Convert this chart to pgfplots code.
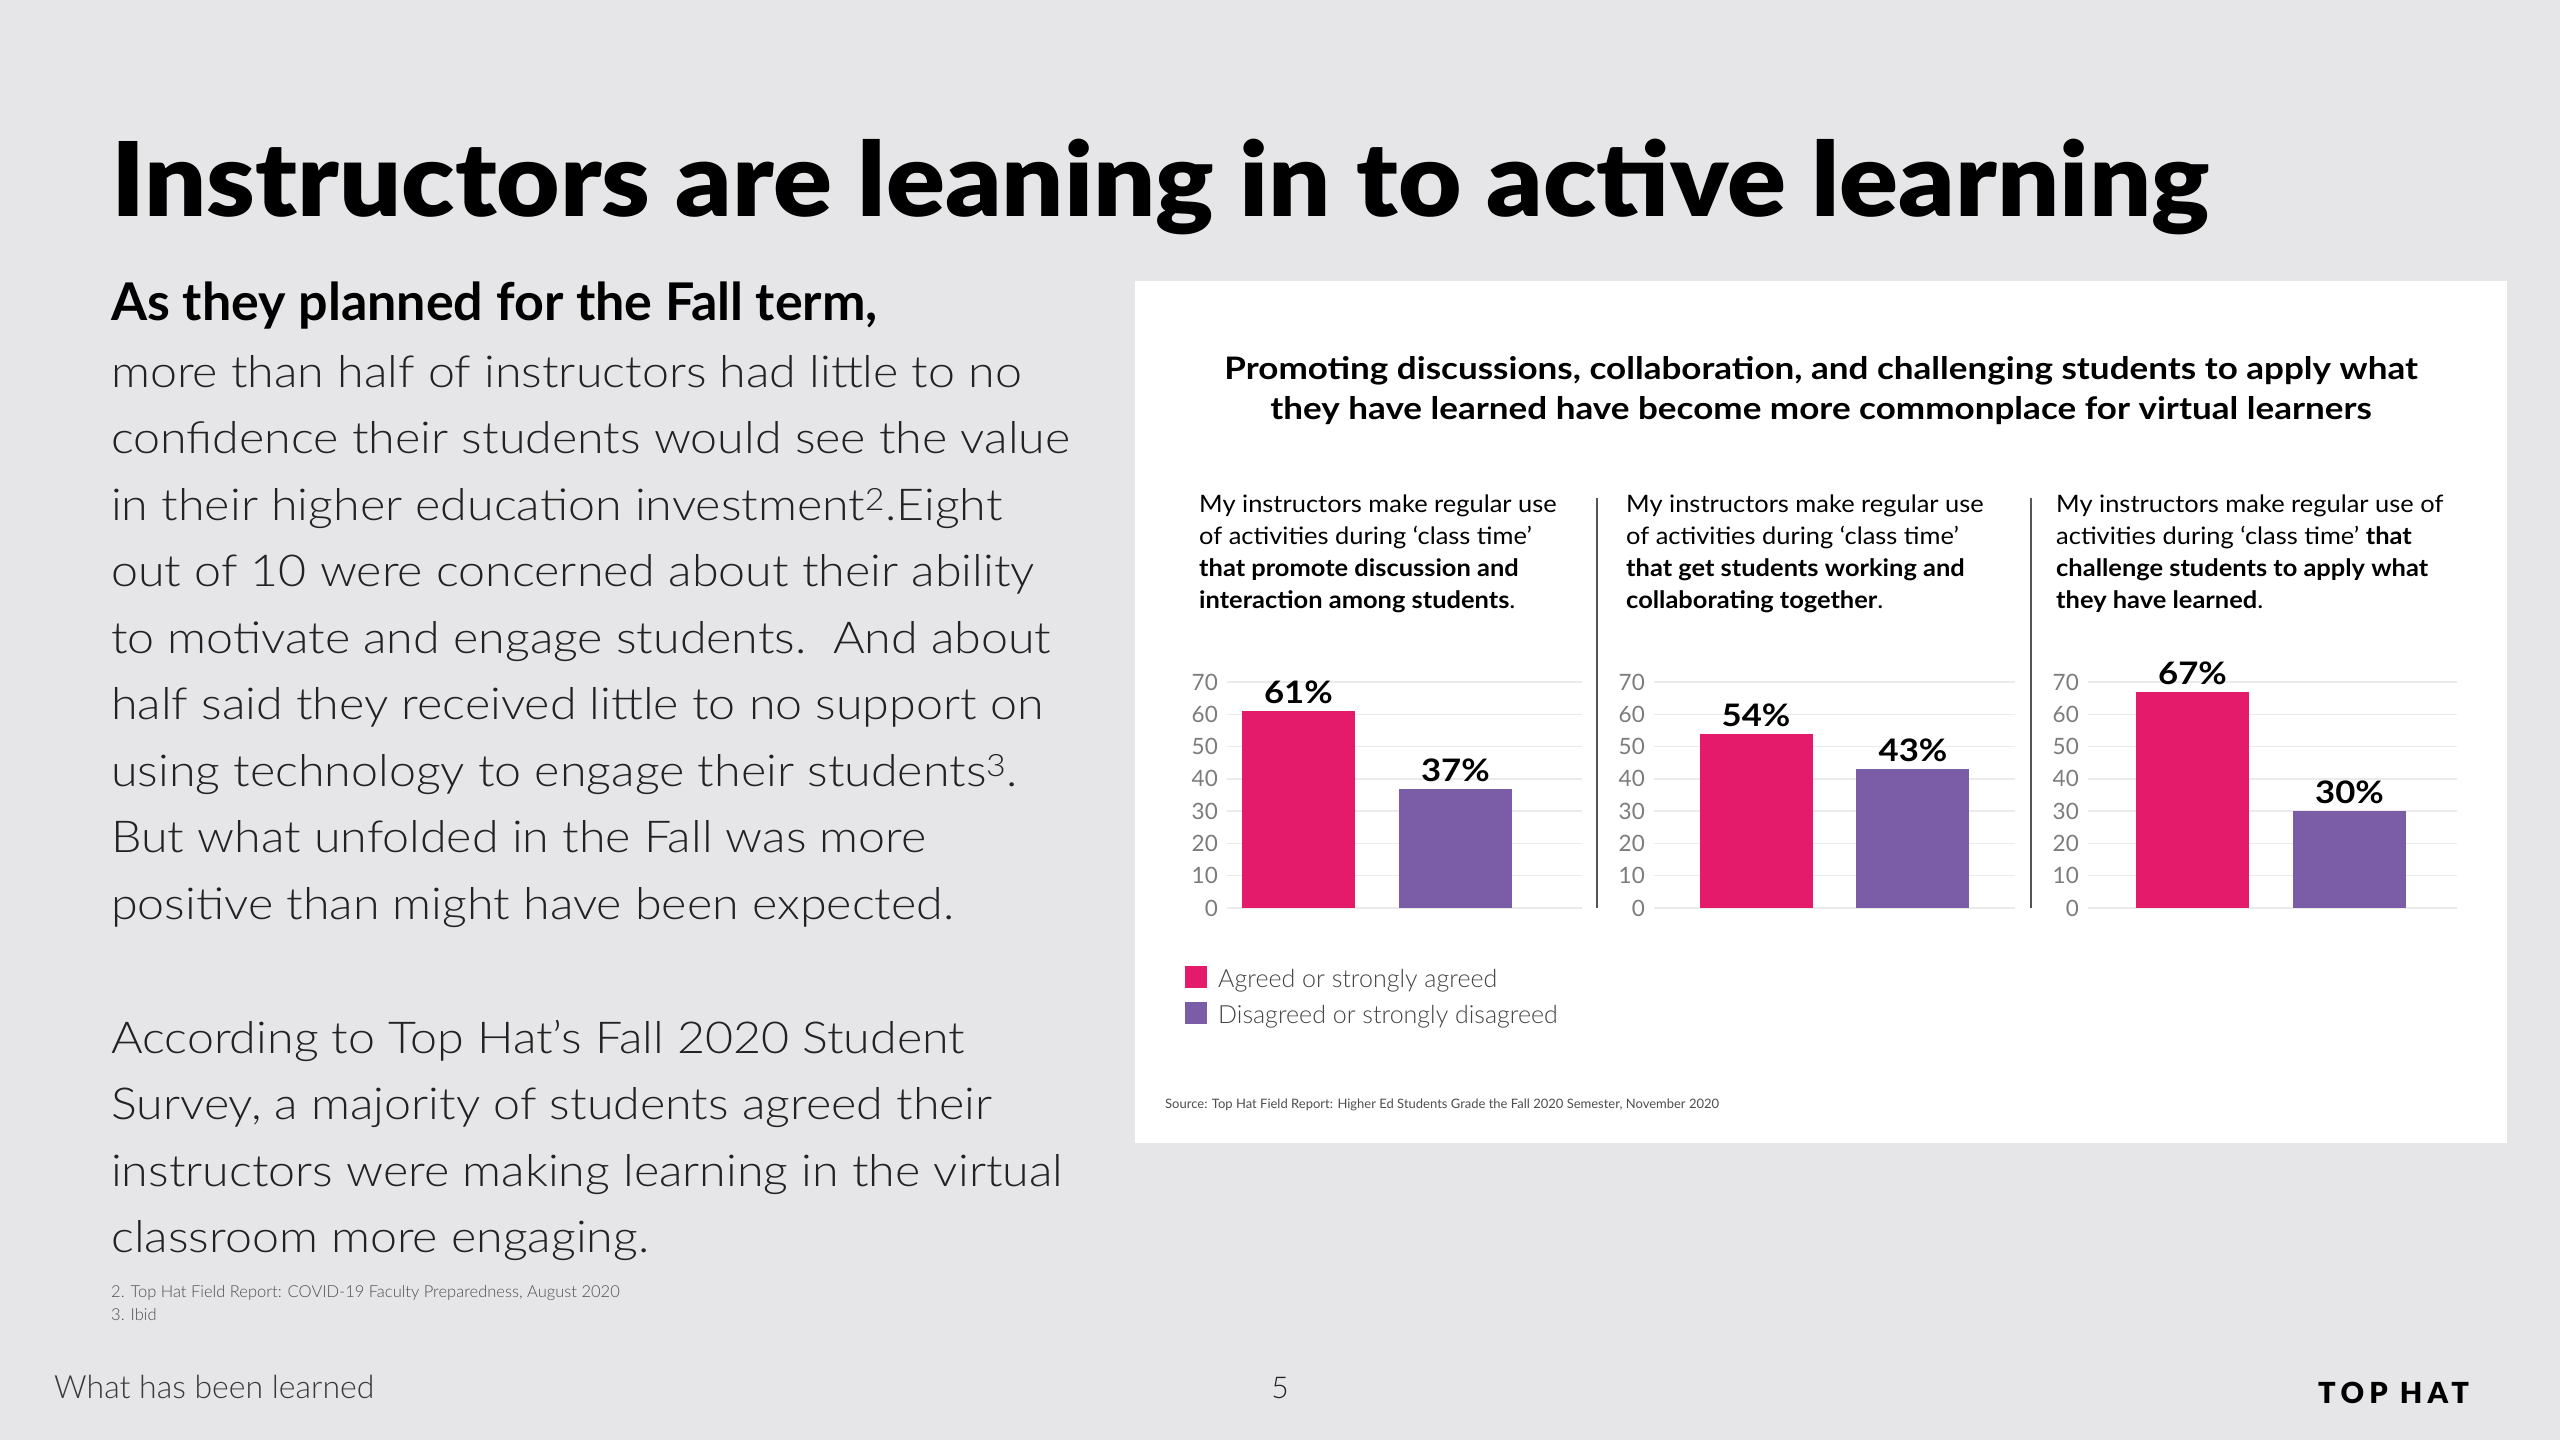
\documentclass[border=0pt]{standalone}
\usepackage{pgfplots}
\pgfplotsset{compat=1.18}
\usepackage{graphicx}
\usepackage{fontspec}
\setmainfont{Lato}
\newfontfamily\lightfont{Lato Light}
\newfontfamily\blackfont{Lato Black}

\definecolor{bg}{HTML}{E6E6E8}
\definecolor{agree}{HTML}{E41B6B}
\definecolor{disagree}{HTML}{7B5CA6}
\definecolor{gridc}{HTML}{EBEBEB}
\definecolor{tickc}{HTML}{7C7C7C}
\definecolor{bodyc}{HTML}{222222}
\definecolor{sepc}{HTML}{555555}

\pgfplotsset{
  panel/.style={
    scale only axis, width=355pt, height=226pt,
    anchor=south west,
    ymin=0, ymax=70, ytick={0,10,...,70},
    xtick=\empty,
    axis line style={draw=none},
    major tick style={draw=none},
    ymajorgrids, grid style={gridc, line width=1.5pt},
    yticklabel style={font=\fontsize{22.5}{22.5}\selectfont, text=tickc, inner sep=0pt, xshift=-9pt},
    /pgf/number format/assume math mode=true,
    clip=false,
    nodes near coords={\pgfmathprintnumber{\pgfplotspointmeta}\%},
    every node near coord/.append style={font=\bfseries\fontsize{31}{31}\selectfont\addfontfeature{FakeStretch=1.12},
      text=black, inner sep=0pt, yshift=7pt},
  },
  mybar/.style={ybar, bar width=113pt, bar shift=0pt, draw=none, fill=#1,
    legend image code/.code={\fill[##1] (0pt,-7.5pt) rectangle (22pt,14.5pt);}},
}

\begin{document}
\begin{tikzpicture}
\fill[bg] (0,0) rectangle (2560pt,-1440pt);
\useasboundingbox (0,0) rectangle (2560pt,-1440pt);
\begin{scope}[x=1pt,y=-1pt]
% slide title
\node[anchor=base west, inner sep=0] at (111,216)
  {\resizebox{2098pt}{\height}{\blackfont\fontsize{103}{103}\selectfont Instructors are leaning in to active learning}};
% left column (multi-line nodes: base anchor is the last line's baseline)
\node[anchor=base west, inner sep=0, font=\bfseries\fontsize{52}{52}\selectfont] at (111,320)
  {As they planned for the Fall term,};
\node[anchor=base west, inner sep=0, align=left, text=bodyc,
  font=\lightfont\fontsize{44}{66.5}\selectfont\addfontfeature{FakeStretch=1.1}] at (111,919)
  {more than half of instructors had little to no\\
   confidence their students would see the value\\
   in their higher education investment\textsuperscript{2}.Eight\\
   out of 10 were concerned about their ability\\
   to motivate and engage students.\ \ And about\\
   half said they received little to no support on\\
   using technology to engage their students\textsuperscript{3}.\\
   But what unfolded in the Fall was more\\
   positive than might have been expected.};
\node[anchor=base west, inner sep=0, align=left, text=bodyc,
  font=\lightfont\fontsize{44}{66.5}\selectfont\addfontfeature{FakeStretch=1.1}] at (111,1252.5)
  {According to Top Hat’s Fall 2020 Student\\
   Survey, a majority of students agreed their\\
   instructors were making learning in the virtual\\
   classroom more engaging.};
\node[anchor=base west, inner sep=0, align=left, text=bodyc!80, font=\lightfont\fontsize{16.5}{23}\selectfont] at (111,1320)
  {2. Top Hat Field Report: COVID-19 Faculty Preparedness, August 2020\\3. Ibid};
% footer
\node[anchor=base west, inner sep=0, text=bodyc!90, font=\lightfont\fontsize{32}{32}\selectfont] at (54,1398) {What has been learned};
\node[anchor=base, inner sep=0, text=bodyc, font=\lightfont\fontsize{30}{30}\selectfont] at (1280,1398) {5};
\node[anchor=base west, inner sep=0, font=\blackfont\fontsize{29}{29}\selectfont\addfontfeature{LetterSpace=18}] at (2318,1403) {TOP HAT};
% chart panel
\fill[white] (1135,281) rectangle (2507,1143);
\node[anchor=base, inner sep=0, align=center,
  font=\bfseries\fontsize{31}{40}\selectfont\addfontfeature{FakeStretch=1.13}] at (1821,419)
  {Promoting discussions, collaboration, and challenging students to apply what\\
   they have learned have become more commonplace for virtual learners};
\begin{scope}[every node/.style={anchor=base west, inner sep=0, align=left,
  font=\fontsize{24}{32}\selectfont\addfontfeature{FakeStretch=1.06}}]
\node at (1199,608)
  {My instructors make regular use\\of activities during ‘class time’\\
   \textbf{that promote discussion and}\\\textbf{interaction among students}.};
\node at (1626,608)
  {My instructors make regular use\\of activities during ‘class time’\\
   \textbf{that get students working and}\\\textbf{collaborating together}.};
\node at (2056,608)
  {My instructors make regular use of\\activities during ‘class time’ \textbf{that}\\
   \textbf{challenge students to apply what}\\\textbf{they have learned}.};
\end{scope}
\draw[sepc, line width=1.5pt] (1597,498) -- (1597,908);
\draw[sepc, line width=1.5pt] (2031,498) -- (2031,908);
\node[anchor=base west, inner sep=0, text=bodyc!80, font=\fontsize{13}{13}\selectfont] at (1165,1108)
  {Source: Top Hat Field Report: Higher Ed Students Grade the Fall 2020 Semester, November 2020};
\end{scope}

\begin{axis}[panel, at={(1227pt,-908pt)}, xmin=-0.455, xmax=1.806,
  legend style={at={(-0.1183,-0.2566)}, anchor=north west, draw=none, fill=none,
    inner sep=0pt, row sep=10pt, column sep=11pt,
    font=\lightfont\fontsize{25}{25}\selectfont, text=bodyc!85,
    nodes={inner sep=0pt, text height=18pt, text depth=5pt}},
  legend cell align=left]
\addplot[mybar=agree] coordinates {(0,61)};
\addlegendentry{Agreed or strongly agreed}
\addplot[mybar=disagree] coordinates {(1,37)};
\addlegendentry{Disagreed or strongly disagreed}
\end{axis}

\begin{axis}[panel, at={(1654pt,-908pt)}, width=361pt, xmin=-0.65, xmax=1.65]
\addplot[mybar=agree] coordinates {(0,54)};
\addplot[mybar=disagree] coordinates {(1,43)};
\end{axis}

\begin{axis}[panel, at={(2088pt,-908pt)}, width=369pt, xmin=-0.666, xmax=1.685]
\addplot[mybar=agree] coordinates {(0,67)};
\addplot[mybar=disagree] coordinates {(1,30)};
\end{axis}
\end{tikzpicture}
\end{document}
